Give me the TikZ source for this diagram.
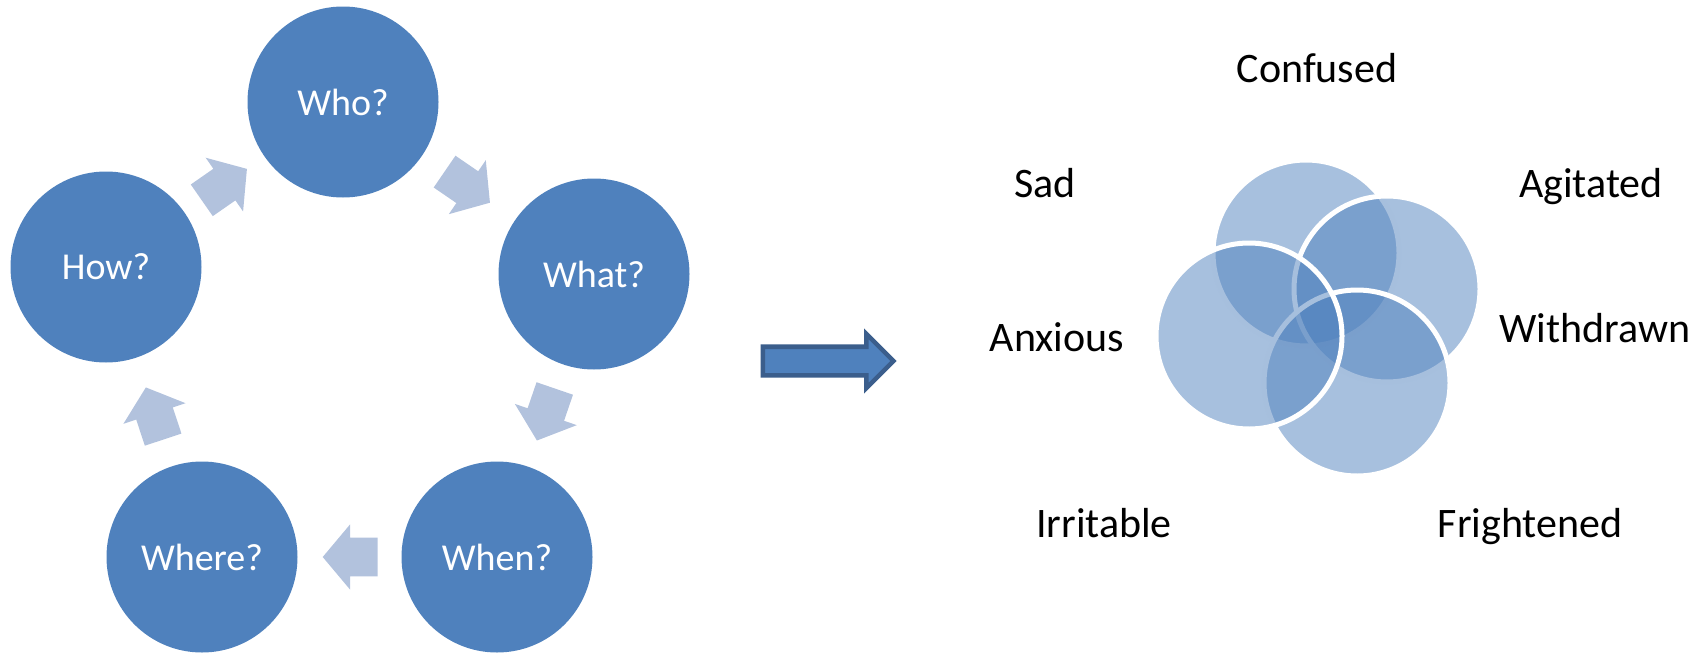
\documentclass[tikz,border=0pt]{standalone}
\usepackage{fontspec}
\setmainfont{Carlito}
\usetikzlibrary{shapes.arrows}

\definecolor{cyclefill}{HTML}{4F81BD}
\definecolor{arrowfill}{HTML}{B2C2DD}
\definecolor{arrowline}{HTML}{3B5E8C}

\begin{document}
\begin{tikzpicture}[x=0.75pt,y=-0.75pt,
  main node/.style={circle,fill=cyclefill,text=white,inner sep=0pt,
  minimum size=143.25pt,font=\fontsize{28.5}{34}\selectfont},
  cycle arrow/.style={single arrow,fill=arrowfill,sloped,allow upside down,
  pos=.415,inner xsep=0pt,inner ysep=14.25pt,minimum height=41.25pt,
  single arrow head extend=10.1pt,single arrow tip angle=100},
  venn/.style={fill=cyclefill,fill opacity=0.5,draw=white,line width=3.75pt},
  mood/.style={anchor=base,font=\fontsize{31.5}{38}\selectfont}]

  \useasboundingbox (0,0) rectangle (1708,653);

  \node[main node] (who) at (343,102) {Who?};
  \node[main node] (what) at (594,274) {What?};
  \node[main node] (when) at (497,557) {When?};
  \node[main node] (where) at (202,557) {Where?};
  \node[main node] (how) at (106,267) {How?};

  % block arrows between the questions
  \path (who) -- node[cycle arrow] {} (what)
        (what) -- node[cycle arrow] {} (when)
        (when) -- node[cycle arrow] {} (where)
        (where) -- node[cycle arrow] {} (how)
        (how) -- node[cycle arrow] {} (who);

  \node[single arrow,fill=cyclefill,draw=arrowline,line width=3.4pt,
    inner xsep=0pt,inner ysep=9pt,single arrow head extend=9.6pt,
    minimum height=98pt] (next) at (821,361) {};

  % venn circles, clockwise from the top one
  \draw[venn] (1306,253) circle[radius=69.75pt];
  \draw[venn] (1387,289) circle[radius=69.75pt];
  \draw[venn] (1357,383) circle[radius=69.75pt];
  \draw[venn] (1249,336) circle[radius=69.75pt];

  \node[mood] (confused) at (1317,82) {Confused};
  \node[mood] (sad) at (1045,197) {Sad};
  \node[mood] (agitated) at (1591,197) {Agitated};
  \node[mood] (anxious) at (1057,351) {Anxious};
  \node[mood] (withdrawn) at (1595,342) {Withdrawn};
  \node[mood] (irritable) at (1104,537) {Irritable};
  \node[mood] (frightened) at (1530,537) {Frightened};
\end{tikzpicture}
\end{document}
